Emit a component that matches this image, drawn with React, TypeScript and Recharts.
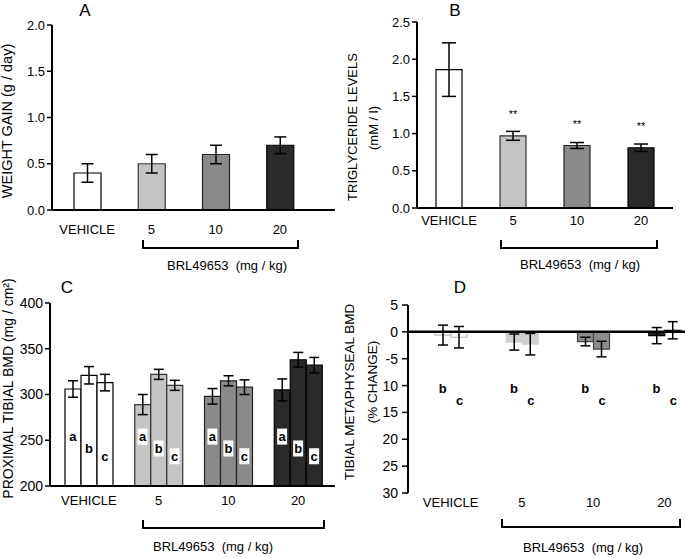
import { ComposedChart, Bar, Cell, XAxis, YAxis, ErrorBar, LabelList, Scatter, ReferenceLine, Label } from 'recharts'

const GROUPS = ['VEHICLE', '5', '10', '20']
const FILLS = ['#ffffff', '#c4c4c4', '#8a8a8a', '#2a2a2a']
const STROKES = ['#000', '#333', '#222', '#000']

// A: weight gain
const WEIGHT_GAIN = [0.4, 0.5, 0.6, 0.7]
const WEIGHT_GAIN_ERR = [0.1, 0.1, 0.1, 0.09]
const A_TICKS = [0, 0.5, 1, 1.5, 2]

// B: triglycerides
const TRIG = [1.86, 0.97, 0.84, 0.81]
const TRIG_ERR = [0.36, 0.06, 0.04, 0.05]
const TRIG_SIG = ['', '**', '**', '**']
const B_TICKS = [0, 0.5, 1, 1.5, 2, 2.5]

// C: proximal tibial BMD, time points a / b / c
const BMD_A = [306, 289, 298, 305]
const BMD_A_ERR = [9, 11, 8.5, 12]
const BMD_B = [321, 322, 315, 338]
const BMD_B_ERR = [9.5, 5.5, 5.5, 8]
const BMD_C = [313, 310, 308, 332]
const BMD_C_ERR = [9, 5.5, 8, 8.5]
const C_LETTER_LEVELS = [254, 241, 232.5]
const C_TICKS = [200, 250, 300, 350, 400]

// D: metaphyseal BMD % change, time points b / c
const META_B = [-0.6, -1.9, -1.8, -0.7]
const META_B_ERR = [1.85, 1.5, 0.8, 1.5]
const META_C = [-1.0, -2.3, -3.2, 0.3]
const META_C_ERR = [2.0, 2.0, 1.45, 1.6]
const D_LETTER_LEVELS = [-10.5, -12.7]
const D_TICKS = [5, 0, -5, -10, -15, -20, -25, -30]
const D_TICK_LABELS = ['5', '0', '-5', '10', '15', '20', '25', '30']

const dataA = GROUPS.map((g, i) => ({ group: g, value: WEIGHT_GAIN[i], err: WEIGHT_GAIN_ERR[i] }))
const dataB = GROUPS.map((g, i) => ({ group: g, value: TRIG[i], err: TRIG_ERR[i], sig: TRIG_SIG[i] }))
const dataC = GROUPS.map((g, i) => ({
  group: g,
  a: BMD_A[i], aErr: BMD_A_ERR[i],
  b: BMD_B[i], bErr: BMD_B_ERR[i],
  c: BMD_C[i], cErr: BMD_C_ERR[i],
  la: C_LETTER_LEVELS[0], lb: C_LETTER_LEVELS[1], lc: C_LETTER_LEVELS[2],
}))
const dataD = GROUPS.map((g, i) => ({
  group: g,
  b: META_B[i], bErr: META_B_ERR[i],
  c: META_C[i], cErr: META_C_ERR[i],
  lb: D_LETTER_LEVELS[0], lc: D_LETTER_LEVELS[1],
}))

const D_FILLS = ['#ffffff', '#cfcfcf', '#8c8c8c', '#222222']
const D_STROKES = ['#bbbbbb', '#cfcfcf', '#444444', '#000000']

const axisLine = { stroke: '#000', strokeWidth: 2 }
const tickLine = { stroke: '#000', strokeWidth: 1.5 }

const yTitle = (lines: string[], xs: number[], dys: number[], size: number) => (props: any) => {
  const vb = props.viewBox
  return (
    <g>
      {lines.map((t, i) => {
        const cy = vb.y + vb.height / 2 + dys[i]
        return (
          <text key={i} x={xs[i]} y={cy} transform={`rotate(-90 ${xs[i]} ${cy})`} textAnchor="middle"
            dominantBaseline="central" fontSize={size} fill="#000">{t}</text>
        )
      })}
    </g>
  )
}

const letter = (ch: string, dx: number, boxed: boolean) => (props: any) => {
  const { cx, cy } = props
  if (cx == null || cy == null) return <g />
  const x = cx + dx
  return (
    <g>
      {boxed && <rect x={x - 5} y={cy - 8} width={10} height={16} fill="#fff" />}
      <text x={x} y={cy} textAnchor="middle" dominantBaseline="central" fontSize={13} fontWeight="bold" fill="#000">{ch}</text>
    </g>
  )
}

const BRACKETS = [
  { x1: 143, x2: 298, y: 248, tx: 227, ty: 265 },
  { x1: 501, x2: 657, y: 248, tx: 580, ty: 264 },
  { x1: 143, x2: 324, y: 528, tx: 213, ty: 546 },
  { x1: 502, x2: 680, y: 527, tx: 583, ty: 547 },
]
const PANEL_LETTERS = [
  { t: 'A', x: 85, y: 10 },
  { t: 'B', x: 455, y: 10 },
  { t: 'C', x: 67, y: 287 },
  { t: 'D', x: 460, y: 287 },
]

export default function App() {
  return (
    <div style={{ position: 'absolute', left: 0, top: 0, width: 685, height: 558, overflow: 'hidden', background: '#fff', fontFamily: '"Liberation Sans", Arial, sans-serif' }}>
      <div style={{ position: 'absolute', left: 0, top: 0 }}>
        <ComposedChart width={340} height={280} data={dataA} margin={{ top: 25, right: 5, bottom: 40, left: 0 }}>
          <XAxis dataKey="group" height={30} tickLine={false} tickSize={0} tickMargin={15} axisLine={axisLine}
            padding={{ left: 3, right: 23 }} interval={0} tick={{ fill: '#000', fontSize: 13 }} />
          <YAxis width={52} domain={[0, 2]} ticks={A_TICKS} tickFormatter={(v: number) => v.toFixed(1)} tickSize={5} tickMargin={2}
            axisLine={axisLine} tickLine={tickLine} tick={{ fill: '#000', fontSize: 13 }}>
            <Label content={yTitle(['WEIGHT GAIN (g / day)'], [7], [3.5], 14.5)} />
          </YAxis>
          <Bar dataKey="value" barSize={27} isAnimationActive={false} strokeWidth={1.2}>
            {dataA.map((_, i) => <Cell key={i} fill={FILLS[i]} stroke={STROKES[i]} />)}
            <ErrorBar dataKey="err" width={6} stroke="#000" strokeWidth={1.5} direction="y" />
          </Bar>
        </ComposedChart>
      </div>

      <div style={{ position: 'absolute', left: 340, top: 0 }}>
        <ComposedChart width={345} height={280} data={dataB} margin={{ top: 22, right: 12, bottom: 42, left: 0 }}>
          <XAxis dataKey="group" height={30} tickLine={false} tickSize={0} tickMargin={8} axisLine={axisLine}
            interval={0} tick={{ fill: '#000', fontSize: 13 }} />
          <YAxis width={77} domain={[0, 2.5]} ticks={B_TICKS} tickFormatter={(v: number) => v.toFixed(1)} tickSize={5} tickMargin={2}
            axisLine={axisLine} tickLine={tickLine} tick={{ fill: '#000', fontSize: 13 }}>
            <Label content={yTitle(['TRIGLYCERIDE LEVELS', '(mM / l)'], [12, 33], [12, 13], 13)} />
          </YAxis>
          <Bar dataKey="value" barSize={26} isAnimationActive={false} strokeWidth={1.2}>
            {dataB.map((_, i) => <Cell key={i} fill={FILLS[i]} stroke={STROKES[i]} />)}
            <ErrorBar dataKey="err" width={7} stroke="#000" strokeWidth={1.5} direction="y" />
            <LabelList dataKey="sig" position="top" offset={18} fill="#000" fontSize={11} />
          </Bar>
        </ComposedChart>
      </div>

      <div style={{ position: 'absolute', left: 0, top: 270 }}>
        <ComposedChart width={340} height={288} data={dataC} margin={{ top: 33, right: 5, bottom: 42, left: 0 }} barGap={0}>
          <XAxis dataKey="group" height={30} tickLine={false} tickSize={0} tickMargin={10} axisLine={axisLine}
            padding={{ left: 4, right: 2 }} interval={0} tick={{ fill: '#000', fontSize: 13 }} />
          <YAxis width={50} domain={[200, 400]} ticks={C_TICKS} tickSize={5} tickMargin={2}
            axisLine={axisLine} tickLine={tickLine} tick={{ fill: '#000', fontSize: 14 }}>
            <Label content={yTitle(['PROXIMAL TIBIAL BMD (mg / cm\u00b2)'], [8], [-6], 14)} />
          </YAxis>
          {(['a', 'b', 'c'] as const).map((k) => (
            <Bar key={k} dataKey={k} barSize={16} isAnimationActive={false} strokeWidth={1.2}>
              {dataC.map((_, i) => <Cell key={i} fill={FILLS[i]} stroke={STROKES[i]} />)}
              <ErrorBar dataKey={`${k}Err`} width={5} stroke="#000" strokeWidth={1.5} direction="y" />
            </Bar>
          ))}
          <Scatter dataKey="la" isAnimationActive={false} shape={letter('a', -16, true)} />
          <Scatter dataKey="lb" isAnimationActive={false} shape={letter('b', 0, true)} />
          <Scatter dataKey="lc" isAnimationActive={false} shape={letter('c', 16, true)} />
        </ComposedChart>
      </div>

      <div style={{ position: 'absolute', left: 340, top: 270 }}>
        <ComposedChart width={370} height={288} data={dataD} margin={{ top: 35, right: 10, bottom: 40, left: 0 }} barGap={0}>
          <XAxis dataKey="group" height={25} tickLine={false} tickSize={0} tickMargin={5} axisLine={false}
            padding={{ left: 7, right: 0 }} interval={0} tick={{ fill: '#000', fontSize: 13 }} />
          <YAxis width={68} domain={[-30, 5]} ticks={D_TICKS} tickSize={6} tickMargin={4}
            tickFormatter={(v: number) => D_TICK_LABELS[D_TICKS.indexOf(v)] ?? String(v)}
            axisLine={axisLine} tickLine={tickLine} tick={{ fill: '#000', fontSize: 14 }}>
            <Label content={yTitle(['TIBIAL METAPHYSEAL BMD', '(% CHANGE)'], [9, 32], [-7, -17], 13.5)} />
          </YAxis>
          {(['b', 'c'] as const).map((k) => (
            <Bar key={k} dataKey={k} barSize={16} isAnimationActive={false} strokeWidth={1.2}>
              {dataD.map((_, i) => <Cell key={i} fill={D_FILLS[i]} stroke={D_STROKES[i]} />)}
              <ErrorBar dataKey={`${k}Err`} width={5} stroke="#000" strokeWidth={1.5} direction="y" />
            </Bar>
          ))}
          <ReferenceLine y={0} stroke="#000" strokeWidth={2.5} />
          <Scatter dataKey="lb" isAnimationActive={false} shape={letter('b', -8, false)} />
          <Scatter dataKey="lc" isAnimationActive={false} shape={letter('c', 9, false)} />
        </ComposedChart>
      </div>

      <svg width={685} height={558} style={{ position: 'absolute', left: 0, top: 0, pointerEvents: 'none' }}>
        {PANEL_LETTERS.map((p) => (
          <text key={p.t} x={p.x} y={p.y} textAnchor="middle" dominantBaseline="central" fontSize={17} fill="#000">{p.t}</text>
        ))}
        {BRACKETS.map((b, i) => (
          <g key={i}>
            <path d={`M${b.x1},${b.y - 8} L${b.x1},${b.y} L${b.x2},${b.y} L${b.x2},${b.y - 8}`} fill="none" stroke="#000" strokeWidth={2} />
            <text x={b.tx} y={b.ty} textAnchor="middle" dominantBaseline="central" fontSize={13} fill="#000">{'BRL49653\u00a0\u00a0(mg / kg)'}</text>
          </g>
        ))}
      </svg>
    </div>
  )
}
